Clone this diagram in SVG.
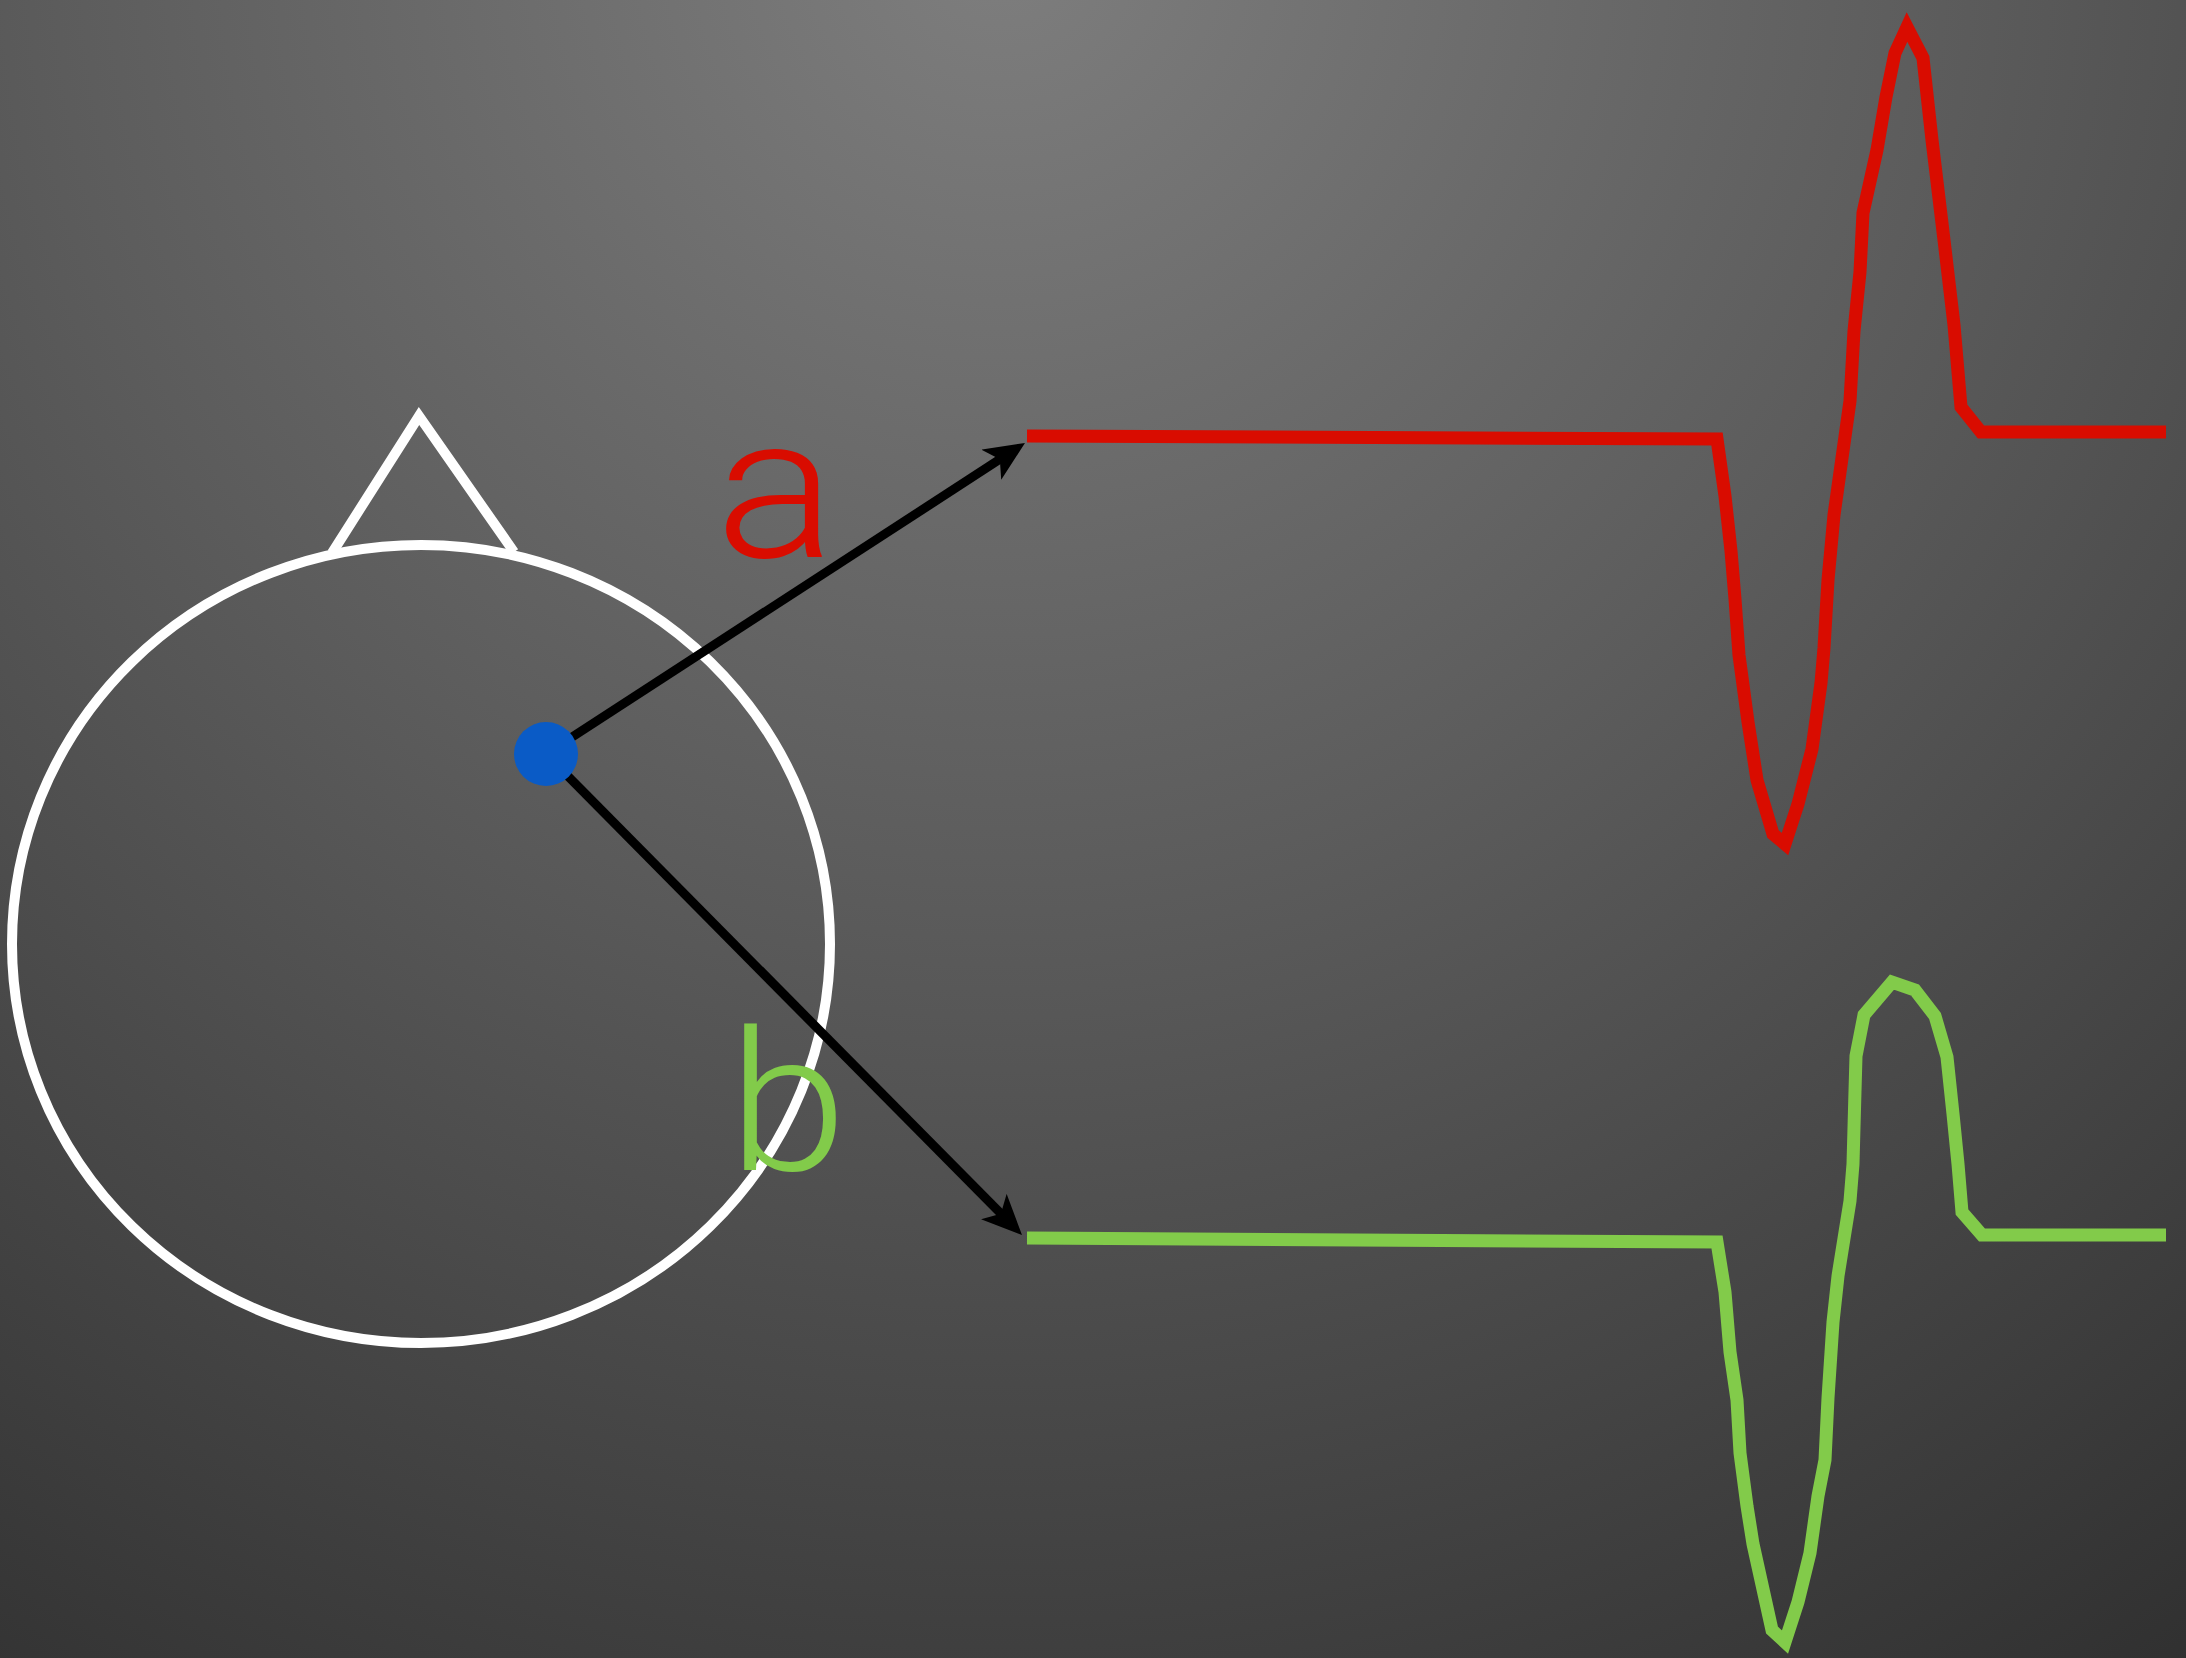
<svg xmlns="http://www.w3.org/2000/svg" width="2186" height="1658" viewBox="0 0 2186 1658">
  <defs>
    <radialGradient id="bg" gradientUnits="userSpaceOnUse" cx="1000" cy="-60" r="2100">
      <stop offset="0" stop-color="#7e7e7e"/>
      <stop offset="0.45" stop-color="#5c5c5c"/>
      <stop offset="1" stop-color="#303030"/>
    </radialGradient>
    <marker id="arrow" markerUnits="userSpaceOnUse" viewBox="0 0 40 36" refX="15" refY="18" markerWidth="40" markerHeight="36" orient="auto">
      <path d="M0,0 L40,18 L0,36 L10,18 Z" fill="#000"/>
    </marker>
    <style>
      .head { fill: none; stroke: #ffffff; stroke-width: 10; }
      .conn { fill: none; stroke: #000000; stroke-width: 9; marker-end: url(#arrow); }
      .trace { fill: none; stroke-width: 13; stroke-linejoin: miter; stroke-miterlimit: 6; }
      .label { font-family: Roboto, "Liberation Sans", sans-serif; font-weight: 300; }
    </style>
  </defs>
  <rect x="0" y="0" width="2186" height="1658" fill="url(#bg)"/>

  <g id="head">
    <ellipse class="head" cx="421" cy="944" rx="409" ry="399"/>
    <polyline class="head" points="332,553 419,416 514,552"/>
  </g>

  <g id="connectors">
    <line class="conn" x1="546" y1="754" x2="1004" y2="456.6"/>
    <line class="conn" x1="546" y1="754" x2="1004.4" y2="1217.2"/>
  </g>

  <g id="electrode">
    <circle cx="546" cy="754" r="32" fill="#0a5bc6"/>
  </g>

  <g id="trace-a">
    <polyline class="trace" stroke="#d90c00" points="1027,436 1717,439 1725,496 1731,551 1735,599 1739,655 1748,722 1757,780 1773,834 1785,844 1798,804 1812,749 1821,683 1824,648 1828,580 1834,515 1850,401 1854,331 1860,272 1863,213 1877,150 1886,97 1895,53 1907,27 1923,58 1932,140 1944,240 1954,325 1961,407 1981,432 2166,432"/>
  </g>

  <g id="trace-b">
    <polyline class="trace" stroke="#82cb4a" points="1027,1238 1717,1242 1725,1292 1730,1352 1737,1400 1740,1453 1747,1506 1753,1544 1772,1630 1785,1642 1798,1602 1810,1553 1818,1496 1825,1460 1828,1398 1833,1322 1838,1276 1850,1201 1853,1164 1855,1091 1856,1056 1864,1015 1892,982 1915,990 1935,1016 1947,1057 1953,1114 1958,1164 1962,1212 1982,1235 2166,1235"/>
  </g>

  <g id="labels">
    <text class="label" transform="translate(715,557) scale(1.13,1)" x="0" y="0" font-size="200" fill="#d90c00">a</text>
    <text class="label" transform="translate(728,1170) scale(1.1,1)" x="0" y="0" font-size="195" fill="#82cb4a">b</text>
  </g>
</svg>
